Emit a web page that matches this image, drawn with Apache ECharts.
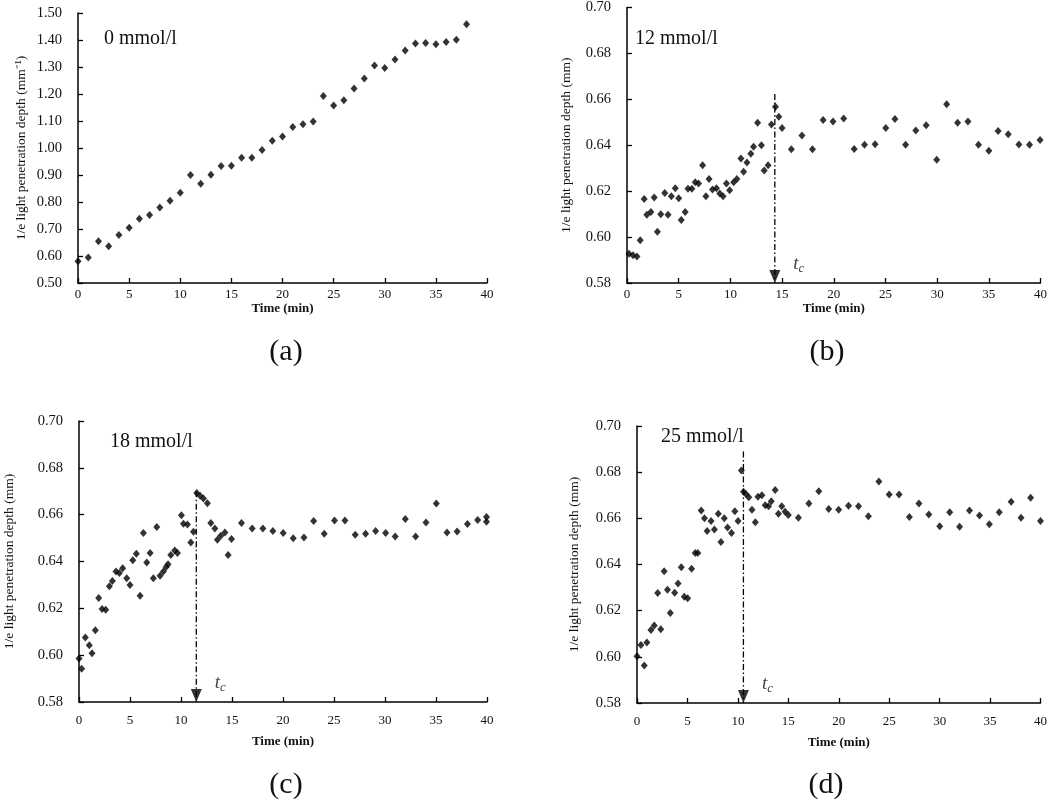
<!DOCTYPE html>
<html><head><meta charset="utf-8">
<script src="https://cdn.jsdelivr.net/npm/echarts@6/dist/echarts.min.js"></script>
<style>html,body{margin:0;padding:0;background:#fff}#c{width:1050px;height:807px}</style>
</head><body><div id="c"></div>
<script>
// ---------- data ----------
const xTicks = [0, 5, 10, 15, 20, 25, 30, 35, 40];
const concLabels = ['0 mmol/l', '12 mmol/l', '18 mmol/l', '25 mmol/l'];
const panelLetters = ['(a)', '(b)', '(c)', '(d)'];

const tA = [0,1,2,3,4,5,6,7,8,9,10,11,12,13,14,15,16,17,18,19,20,21,22,23,24,25,26,27,28,29,30,31,32,33,34,35,36,37,38];
const vA = [0.581,0.594,0.655,0.636,0.678,0.705,0.738,0.752,0.780,0.805,0.834,0.900,0.868,0.901,0.933,0.934,0.964,0.964,0.993,1.027,1.043,1.078,1.088,1.098,1.193,1.157,1.177,1.220,1.257,1.306,1.296,1.328,1.361,1.387,1.389,1.384,1.393,1.401,1.458];

const tB = [0.19,0.58,0.96,1.28,1.66,1.92,2.31,2.63,2.94,3.27,3.65,3.97,4.29,4.67,5.0,5.25,5.63,5.9,6.28,6.6,6.92,7.31,7.63,7.94,8.27,8.65,8.97,9.29,9.62,9.93,10.32,10.63,11.02,11.28,11.6,11.98,12.24,12.63,13.0,13.27,13.65,13.97,14.36,14.68,15.0,15.9,16.92,17.94,18.97,19.93,20.96,21.98,22.98,24.0,25.03,25.92,26.95,27.94,28.94,29.96,30.92,31.98,32.98,34.0,35.0,35.9,36.88,37.91,38.94,39.96];
const vB = [0.5927,0.5921,0.5915,0.5986,0.6166,0.6097,0.6109,0.6172,0.6023,0.6100,0.6192,0.6097,0.6178,0.6213,0.6169,0.6074,0.6109,0.6210,0.6210,0.6239,0.6233,0.6313,0.6178,0.6253,0.6207,0.6213,0.6190,0.6178,0.6233,0.6204,0.6239,0.6253,0.6342,0.6285,0.6325,0.6363,0.6394,0.6498,0.6400,0.6290,0.6313,0.6490,0.6568,0.6524,0.6475,0.6383,0.6443,0.6383,0.6510,0.6503,0.6517,0.6384,0.6402,0.6404,0.6475,0.6514,0.6402,0.6464,0.6487,0.6337,0.6579,0.6498,0.6503,0.6402,0.6376,0.6462,0.6448,0.6403,0.6402,0.6423];

const tC = [0,0.26,0.62,1.01,1.28,1.6,1.93,2.26,2.62,2.98,3.27,3.63,3.96,4.28,4.68,5.0,5.27,5.62,5.99,6.31,6.64,6.97,7.29,7.62,7.95,8.27,8.54,8.73,9.0,9.39,9.65,10.04,10.24,10.63,10.96,11.22,11.55,11.87,12.2,12.59,12.92,13.32,13.57,13.9,14.3,14.62,14.95,15.93,16.98,18.03,19.0,20.02,21.0,22.05,23.0,24.04,25.05,26.07,27.08,28.1,29.08,30.06,31.0,31.99,33.0,34.02,35.03,36.08,37.07,38.08,39.09,39.95,39.95];
const vC = [0.5986,0.5942,0.6075,0.6042,0.6008,0.6106,0.6244,0.6197,0.6194,0.6294,0.6317,0.6357,0.6351,0.6371,0.6328,0.6300,0.6405,0.6433,0.6254,0.6522,0.6396,0.6436,0.6328,0.6547,0.6339,0.6357,0.6377,0.6388,0.6428,0.6447,0.6436,0.6598,0.6561,0.6558,0.6481,0.6527,0.6692,0.6681,0.6669,0.6649,0.6564,0.6541,0.6493,0.6510,0.6524,0.6428,0.6496,0.6564,0.6541,0.6541,0.6530,0.6522,0.6499,0.6503,0.6573,0.6519,0.6575,0.6575,0.6514,0.6519,0.6530,0.6522,0.6507,0.6581,0.6507,0.6567,0.6648,0.6524,0.6528,0.6560,0.6577,0.6590,0.6570];

const tD = [0,0.39,0.72,0.98,1.38,1.71,2.05,2.36,2.69,3.02,3.3,3.73,4.07,4.39,4.69,5.02,5.41,5.77,6.03,6.36,6.69,6.95,7.34,7.67,8.06,8.32,8.65,8.98,9.37,9.7,10.02,10.35,10.56,10.8,11.08,11.4,11.73,11.99,12.38,12.71,13.04,13.31,13.7,14.02,14.35,14.68,15.0,16.0,17.04,18.02,19.0,19.99,20.97,21.96,22.94,23.98,25.0,25.98,27.0,27.95,28.93,30.01,31.0,31.98,32.96,33.95,34.93,35.91,37.09,38.07,39.02,40.0];
const vD = [0.6002,0.6051,0.5962,0.6062,0.6116,0.6136,0.6277,0.6119,0.6371,0.6291,0.6190,0.6278,0.6318,0.6388,0.6260,0.6254,0.6382,0.6450,0.6450,0.6634,0.6600,0.6545,0.6588,0.6552,0.6620,0.6497,0.6600,0.6560,0.6537,0.6631,0.6588,0.6807,0.6715,0.6705,0.6691,0.6637,0.6583,0.6694,0.6700,0.6657,0.6652,0.6674,0.6723,0.6620,0.6652,0.6629,0.6614,0.6603,0.6664,0.6717,0.6640,0.6637,0.6655,0.6652,0.6609,0.6760,0.6703,0.6703,0.6606,0.6664,0.6617,0.6566,0.6626,0.6563,0.6634,0.6612,0.6574,0.6626,0.6672,0.6603,0.6689,0.6588];

// critical time t_c (vertical dash-dot arrow) per panel
const tcTime = [null, 14.3, 11.5, 10.55];
const tcTop  = [null, 0.6623, 0.670, 0.689];

// ---------- layout ----------
const FONT = '"Liberation Serif","Times New Roman",serif';
const panels = [
  {t:tA, v:vA, grid:{left:78, top:13, width:409, height:270}, ymin:0.5, ymax:1.5, yint:0.1,
   yname:'1/e light penetration depth (mm\u207B\u00B9)', yGap:50, xLabelMargin:5, xGap:17,
   conc:{x:104, y:40}, letter:{x:286, y:352}},
  {t:tB, v:vB, grid:{left:627, top:6, width:416, height:277}, ymin:0.58, ymax:0.70, yint:0.02,
   yname:'1/e light penetration depth (mm)', yGap:54, xLabelMargin:5, xGap:17,
   conc:{x:635, y:40}, letter:{x:827, y:352}},
  {t:tC, v:vC, grid:{left:79, top:421, width:408, height:281}, ymin:0.58, ymax:0.70, yint:0.02,
   yname:'1/e light penetration depth (mm)', yGap:63, xLabelMargin:12, xGap:33,
   conc:{x:110, y:443}, letter:{x:286, y:785}},
  {t:tD, v:vD, grid:{left:637, top:426, width:407, height:277}, ymin:0.58, ymax:0.70, yint:0.02,
   yname:'1/e light penetration depth (mm)', yGap:56, xLabelMargin:12, xGap:33,
   conc:{x:661, y:438}, letter:{x:826, y:785}}
];

const zip = (a, b) => a.slice(0, Math.min(a.length, b.length)).map((x, i) => [x, b[i]]);

const grid = [], xAxis = [], yAxis = [], series = [], graphic = [];
panels.forEach((p, i) => {
  grid.push(Object.assign({containLabel:false}, p.grid));
  xAxis.push({
    type:'value', gridIndex:i, min:xTicks[0], max:xTicks[xTicks.length-1], interval:xTicks[1]-xTicks[0],
    name:'Time (min)', nameLocation:'middle', nameGap:p.xGap,
    nameTextStyle:{fontFamily:FONT, fontSize:13, fontWeight:'bold', color:'#111'},
    axisLine:{show:true, lineStyle:{color:'#000', width:1.5}},
    axisTick:{show:true, inside:true, length:5, lineStyle:{color:'#000', width:1.3}},
    axisLabel:{fontFamily:FONT, fontSize:13, color:'#111', margin:p.xLabelMargin, showMinLabel:true, showMaxLabel:true},
    splitLine:{show:false}
  });
  yAxis.push({
    type:'value', gridIndex:i, min:p.ymin, max:p.ymax, interval:p.yint,
    name:p.yname, nameLocation:'middle', nameGap:p.yGap, nameRotate:90,
    nameTextStyle:{fontFamily:FONT, fontSize:13.5, color:'#111'},
    axisLine:{show:true, onZero:false, lineStyle:{color:'#000', width:1.5}},
    axisTick:{show:true, inside:true, length:5, lineStyle:{color:'#000', width:1.3}},
    axisLabel:{fontFamily:FONT, fontSize:14.5, color:'#111', margin:16, formatter:v => v.toFixed(2), showMinLabel:true, showMaxLabel:true},
    splitLine:{show:false}
  });
  series.push({
    type:'scatter', xAxisIndex:i, yAxisIndex:i, data:zip(p.t, p.v),
    symbol:'diamond', symbolSize:[7,8], itemStyle:{color:'#000'}, silent:true, clip:false
  });
  if (tcTime[i] != null) {
    series.push({
      type:'line', xAxisIndex:i, yAxisIndex:i,
      data:[[tcTime[i], tcTop[i]], [tcTime[i], p.ymin]],
      showSymbol:false, symbol:'none',
      lineStyle:{color:'#000', width:1.3, type:[6,2.5,1.5,2.5]}, silent:true
    });
    series.push({
      type:'scatter', xAxisIndex:i, yAxisIndex:i, data:[[tcTime[i], p.ymin]],
      symbol:'triangle', symbolRotate:180, symbolSize:[11,13], symbolOffset:[0,-6.5],
      itemStyle:{color:'#000'}, clip:false, silent:true, z:5,
      label:{show:true, position:'inside', offset:[24,-13],
        formatter:'{t|t}{c|c}',
        rich:{t:{fontFamily:FONT, fontStyle:'italic', fontSize:19, color:'#111'},
              c:{fontFamily:FONT, fontStyle:'italic', fontSize:13, color:'#111', padding:[10,0,0,0]}}}
    });
  }
  graphic.push({type:'text', left:p.conc.x, top:p.conc.y - 11,
    style:{text:concLabels[i], fontFamily:FONT, fontSize:20, fill:'#111'}});
  graphic.push({type:'text', x:p.letter.x, y:p.letter.y,
    style:{text:panelLetters[i], fontFamily:FONT, fontSize:30, fill:'#111', align:'center', verticalAlign:'middle'}});
});

const chart = echarts.init(document.getElementById('c'), null, {renderer:'canvas'});
chart.setOption({backgroundColor:'#fff', animation:false, grid, xAxis, yAxis, series, graphic});
</script>
</body></html>
